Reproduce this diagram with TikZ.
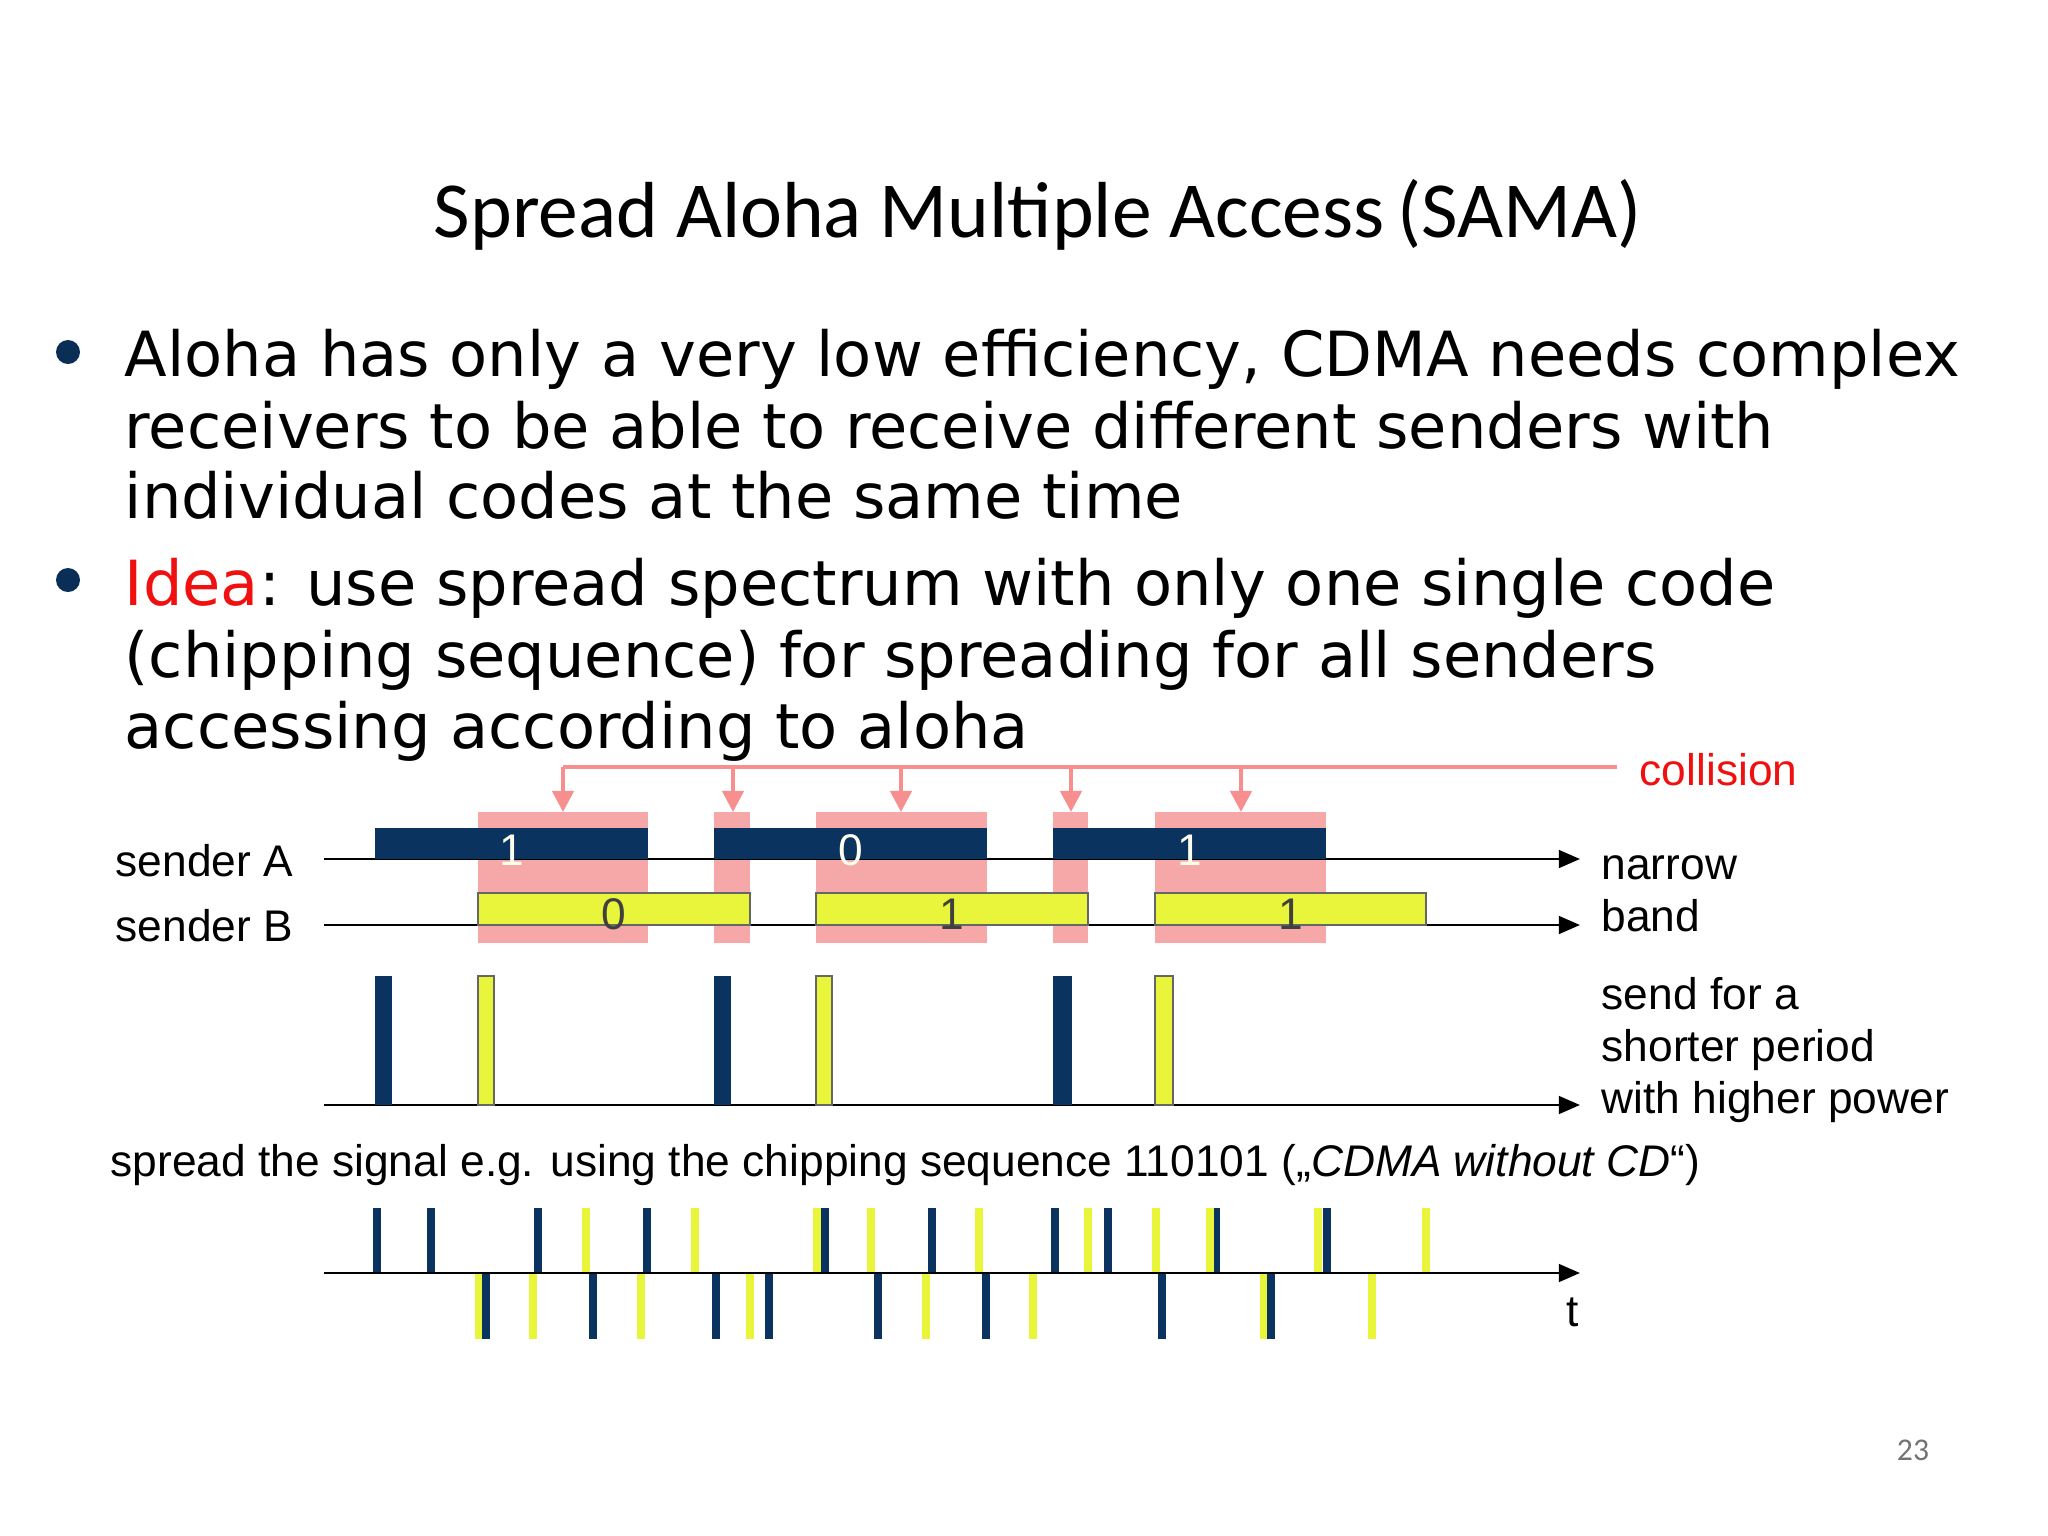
\documentclass[tikz,border=0pt]{standalone}
\usepackage{fontspec}
\setmainfont{Liberation Sans}
\newfontfamily\titlefont{Carlito}
\newfontfamily\bulfont{DejaVu Sans}
\usetikzlibrary{arrows.meta}
\definecolor{navy}{HTML}{0B3360}
\definecolor{ylw}{HTML}{E8F53A}
\definecolor{pnk}{HTML}{F6A8A8}
\definecolor{cred}{HTML}{F01010}
\tikzset{
 lbl/.style={inner sep=0pt,anchor=base west,font=\fontsize{12.6pt}{14pt}\selectfont},
 bul/.style={inner sep=0pt,anchor=base west,font=\bulfont\fontsize{17.7pt}{20pt}\selectfont},
 axis/.style={draw=black,line width=0.8pt,-{Triangle[length=6pt,width=5pt]}},
 ch/.style={line width=2.4pt},
}
\begin{document}
\begin{tikzpicture}[x=0.01cm,y=-0.01cm]
\useasboundingbox (0,0) rectangle (2048,1536);
\node[inner sep=0pt,font=\titlefont\fontsize{22.6pt}{26pt}\selectfont] (title) at (1038,215) {Spread Aloha Multiple Access\,(SAMA)};
% bullets
\fill[navy!90!black] (68,352) circle (12);
\fill[navy!90!black] (68,580) circle (12);
\node[bul] (l1) at (124,376) {Aloha has only a very low efficiency, CDMA needs complex};
\node[bul] (l2) at (124,448) {receivers to be able to receive different senders with};
\node[bul] (l3) at (124,518) {individual codes at the same time};
\node[bul] (l4) at (124,605) {\textcolor{cred}{Idea}: use spread spectrum with only one single code};
\node[bul] (l5) at (124,677) {(chipping sequence) for spreading for all senders};
\node[bul] (l6) at (124,748) {accessing according to aloha};
% collision boxes
\foreach \a/\b in {478/648,714/750,816/987,1053/1088,1155/1326}
  \fill[pnk] (\a,812) rectangle (\b,943);
% collision line
\coordinate (cL) at (563,767);
\coordinate (cR) at (1617,767);
\draw[pnk!85!red,line width=1.2pt] (cL) -- (cR);
\foreach \x in {563,733,901,1071,1241}
  \draw[pnk!85!red,line width=1.2pt,-{Triangle[length=6pt,width=6pt]}] (\x,767) -- (\x,812);
\node[lbl,anchor=west,text=cred] (coll) at (1639,770) {collision};
% axes
\coordinate (a0) at (324,859); \coordinate (a1) at (1580,859);
\coordinate (b0) at (324,925); \coordinate (b1) at (1580,925);
\coordinate (p0) at (324,1105); \coordinate (p1) at (1580,1105);
\coordinate (c0) at (324,1273); \coordinate (c1) at (1580,1273);
\draw[axis] (a0) -- (a1);
\draw[axis] (b0) -- (b1);
\draw[axis] (p0) -- (p1);
% sender bars
\foreach \a/\b/\t in {375/648/1,714/987/0,1053/1326/1}{
  \fill[navy] (\a,828) rectangle (\b,859);
  \node[inner sep=0pt,text=white!90!ylw,font=\fontsize{12.6pt}{14pt}\selectfont] at ({(\a+\b)/2},850) {\t};}
\foreach \a/\b/\t in {478/750/0,816/1088/1,1155/1426/1}{
  \fill[ylw] (\a,893) rectangle (\b,925);
  \draw[black!60,line width=0.3pt] (\a,893) rectangle (\b,925);
  \node[inner sep=0pt,text=black!75,font=\fontsize{12.6pt}{14pt}\selectfont] at ({(\a+\b)/2},914) {\t};}
% labels
\node[lbl] (sa) at (115,876) {sender A};
\node[lbl] (sb) at (115,941) {sender B};
\node[lbl] (nw) at (1601,879) {narrow};
\node[lbl] (bd) at (1601,931) {band};
\node[lbl] (s1) at (1601,1009) {send for a};
\node[lbl] (s2) at (1601,1061) {shorter period};
\node[lbl] (s3) at (1601,1113) {with higher power};
% pulses
\foreach \a/\b in {375/392,714/731,1053/1072} \fill[navy] (\a,976) rectangle (\b,1105);
\foreach \a/\b in {478/494,816/832,1155/1173} {\fill[ylw] (\a,976) rectangle (\b,1105); \draw[black!60,line width=0.3pt] (\a,976) rectangle (\b,1105);}
\node[lbl] (sp) at (110,1176) {spread the signal e.g. using the chipping sequence 110101 („\textit{CDMA without CD}“)};
% chips
\foreach \x in {377,431,538,647,825,932,1055,1108,1216,1327} \draw[navy,ch] (\x,1273) -- (\x,1208);
\foreach \x in {586,695,817,871,979,1088,1156,1210,1318,1426} \draw[ylw,ch] (\x,1273) -- (\x,1208);
\foreach \x in {479,533,641,750,926,1033,1264,1372} \draw[ylw,ch] (\x,1273) -- (\x,1339);
\foreach \x in {486,593,716,769,878,986,1162,1271} \draw[navy,ch] (\x,1273) -- (\x,1339);
\draw[axis] (c0) -- (c1);
\node[lbl,anchor=center] (t) at (1573,1312) {t};
\node[inner sep=0pt,text=black!55,font=\titlefont\fontsize{9pt}{10pt}\selectfont] (pg) at (1913,1450) {23};
\end{tikzpicture}
\end{document}
